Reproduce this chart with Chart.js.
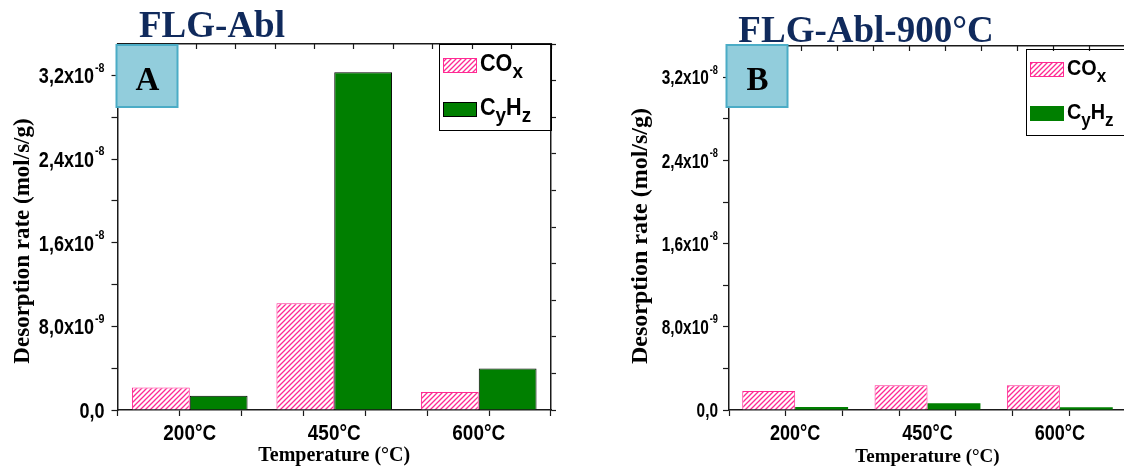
<!DOCTYPE html>
<html lang="en">
<head>
<meta charset="UTF-8">
<title>Desorption rate – FLG-Abl</title>
<script src="https://cdn.jsdelivr.net/npm/chart.js"></script>
<style>
  html, body { margin: 0; padding: 0; background: #fff; overflow: hidden; }
  body { width: 1124px; height: 470px; position: relative; }
  .panel { position: absolute; top: 0; height: 470px; }
  #panelA { left: 0; width: 600px; }
  #panelB { left: 600px; width: 560px; }
</style>
</head>
<body>
<div class="panel" id="panelA"><canvas id="chartA" width="600" height="470"></canvas></div>
<div class="panel" id="panelB"><canvas id="chartB" width="560" height="470"></canvas></div>
<script>
// data (mol/s/g)
const categories = ['200°C', '450°C', '600°C'];
const coxA = [2.16e-9, 1.02e-8, 1.71e-9];
const cyhzA = [1.36e-9, 3.23e-8, 3.97e-9];
const coxB = [1.83e-9, 2.37e-9, 2.37e-9];
const cyhzB = [0.29e-9, 0.64e-9, 0.26e-9];

// y tick labels: mantissa + superscript exponent
const yTickValues = [0, 8e-9, 1.6e-8, 2.4e-8, 3.2e-8];
const yTickLabels = ['0,0', '8,0x10', '1,6x10', '2,4x10', '3,2x10'];
const yTickExps = ['', '-9', '-8', '-8', '-8'];

const SANS = '"Liberation Sans", Arial, sans-serif';
const SERIF = '"Liberation Serif", "Times New Roman", serif';
const PINK = '#ff2a93';
const GREEN = '#007f00';
const AXIS = '#1a1a1a';

function makeHatch() {
  const n = 5;
  const c = document.createElement('canvas');
  c.width = n; c.height = n;
  const g = c.getContext('2d');
  g.fillStyle = '#fff';
  g.fillRect(0, 0, n, n);
  g.strokeStyle = PINK;
  g.lineWidth = 1.3;
  g.beginPath();
  g.moveTo(0, n); g.lineTo(n, 0);
  g.moveTo(-1, 1); g.lineTo(1, -1);
  g.moveTo(n - 1, n + 1); g.lineTo(n + 1, n - 1);
  g.stroke();
  return g.createPattern(c, 'repeat');
}
const hatch = makeHatch();

// narrow bold sans is not installed, so squeeze Liberation Sans horizontally
function narrowText(ctx, text, x, y, align, sx) {
  const w = ctx.measureText(text).width * sx;
  ctx.save();
  ctx.translate(x, y);
  ctx.scale(sx, 1);
  ctx.textAlign = align;
  ctx.fillText(text, 0, 0);
  ctx.restore();
  return w;
}

// draws the title, panel letter box, legend, tick labels and y title
function makeDecor(o) {
  return {
    id: 'decor',
    afterDraw(chart) {
      const { ctx, chartArea: a, scales } = chart;
      ctx.save();
      ctx.fillStyle = '#000';
      ctx.textBaseline = 'alphabetic';

      // y tick labels with superscripts
      const cap = o.tickFont * 0.716;
      yTickValues.forEach((v, i) => {
        const py = scales.y.getPixelForValue(v);
        const base = py + cap / 2;
        let rx = a.left - o.labelGap;
        if (yTickExps[i]) {
          ctx.font = 'bold ' + o.supFont + 'px ' + SANS;
          rx -= narrowText(ctx, yTickExps[i], rx, base - cap - 5 + o.supFont * 0.716, 'right', o.sx) + 1;
        }
        ctx.font = 'bold ' + o.tickFont + 'px ' + SANS;
        narrowText(ctx, yTickLabels[i], rx, base, 'right', o.sx);
      });

      // x category labels
      ctx.font = 'bold ' + o.xTickFont + 'px ' + SANS;
      categories.forEach((c, i) => {
        narrowText(ctx, c, scales.x.getPixelForValue(i), a.bottom + 30, 'center', o.xsx);
      });

      // rotated y title
      ctx.save();
      ctx.translate(o.yTitleX, o.yTitleY);
      ctx.rotate(-Math.PI / 2);
      ctx.textAlign = 'center';
      ctx.textBaseline = 'middle';
      ctx.font = 'bold ' + o.yTitleFont + 'px ' + SERIF;
      ctx.fillText('Desorption rate (mol/s/g)', 0, 0);
      ctx.restore();

      // chart title
      ctx.fillStyle = '#102a5c';
      ctx.font = 'bold 37px ' + SERIF;
      ctx.textAlign = 'center';
      ctx.fillText(o.title, o.titleX, o.titleY);

      // panel letter box
      const bx = a.left + o.boxDx, by = a.top + o.boxDy;
      ctx.fillStyle = '#92cddc';
      ctx.fillRect(bx, by, 61, 62);
      ctx.strokeStyle = '#4bacc6';
      ctx.lineWidth = 2;
      ctx.strokeRect(bx, by, 61, 62);
      ctx.fillStyle = '#000';
      ctx.font = 'bold 33px ' + SERIF;
      ctx.fillText(o.letter, bx + 31, by + 45);

      // legend
      const lx = a.right + o.legDx, ly = a.top + o.legDy;
      ctx.strokeStyle = '#000';
      ctx.lineWidth = 1;
      ctx.strokeRect(lx + 0.5, ly + 0.5, 112, 86);
      chart.data.datasets.forEach((ds, i) => {
        const sy = a.top + o.rows[i];
        ctx.fillStyle = ds.backgroundColor;
        ctx.fillRect(lx + 4, sy, 34, 15);
        if (ds.borderWidth) {
          ctx.strokeStyle = ds.borderColor;
          ctx.lineWidth = 1;
          ctx.strokeRect(lx + 4.5, sy + 0.5, 33, 14);
        }
        // uppercase -> normal, lowercase -> subscript
        let tx = lx + 41;
        const base = sy + 13;
        ctx.fillStyle = '#000';
        ctx.textAlign = 'left';
        for (const ch of ds.label) {
          const sub = ch === ch.toLowerCase();
          ctx.font = 'bold ' + (sub ? o.legFont - 3 : o.legFont) + 'px ' + SANS;
          tx += narrowText(ctx, ch, tx, sub ? base + 7 : base, 'left', 0.9);
        }
      });
      ctx.restore();
    }
  };
}

function makeChart(id, cox, cyhz, p) {
  const tickGrid = len => ({ drawOnChartArea: false, color: AXIS, tickColor: AXIS, tickLength: len, tickWidth: 1.2 });
  const border = { color: AXIS, width: 1.5 };
  return new Chart(document.getElementById(id), {
    type: 'bar',
    data: {
      labels: categories,
      datasets: [
        { label: 'COx', data: cox, backgroundColor: hatch, borderColor: PINK, borderWidth: 1, xAxisID: 'x', yAxisID: 'y' },
        { label: 'CyHz', data: cyhz, backgroundColor: GREEN, borderColor: '#000', borderWidth: p.greenBorder, xAxisID: 'x', yAxisID: 'y' }
      ]
    },
    options: {
      responsive: false,
      animation: false,
      layout: { padding: { left: 0, top: p.top, right: p.padRight, bottom: 0 } },
      datasets: { bar: { categoryPercentage: 0.8, barPercentage: 1.0 } },
      plugins: {
        legend: { display: false },
        tooltip: { enabled: false }
      },
      scales: {
        x: {
          type: 'category', position: 'bottom', weight: 1, offset: true,
          grid: { display: false, drawTicks: false },
          border: { display: false },
          ticks: { display: false },
          title: { display: true, text: 'Temperature (°C)', color: '#000', padding: { top: 0, bottom: 2 },
                   font: { family: SERIF, size: p.xTitleFont, weight: 'bold' } },
          afterFit: s => { s.height = 60; }
        },
        // tick marks only: half-category steps on the bottom, tenths on top and right
        xBot: {
          type: 'linear', position: 'bottom', weight: 0, min: 0, max: 6,
          ticks: { display: false, stepSize: 1 },
          grid: tickGrid(6), border,
          afterFit: s => { s.height = 0; }
        },
        xTop: {
          type: 'linear', position: 'top', min: 0, max: 10,
          ticks: { display: false, stepSize: 1 },
          grid: tickGrid(-5), border,
          afterFit: s => { s.height = 0; }
        },
        y: {
          type: 'linear', position: 'left', min: 0, max: 3.5e-8,
          ticks: { display: false, stepSize: 4e-9, includeBounds: false },
          grid: tickGrid(6), border,
          afterFit: s => { s.width = p.left; }
        },
        y2: {
          type: 'linear', position: 'right', min: 0, max: 3.5e-8,
          ticks: { display: false, stepSize: p.rightStep },
          grid: tickGrid(5), border,
          afterFit: s => { s.width = 5; }
        }
      }
    },
    plugins: [makeDecor(p.decor)]
  });
}

makeChart('chartA', coxA, cyhzA, {
  top: 44, left: 117.5, padRight: 44, greenBorder: 1, rightStep: 3.5e-9, xTitleFont: 20,
  decor: { title: 'FLG-Abl', titleX: 212, titleY: 37, letter: 'A', boxDx: -1, boxDy: 1,
           legDx: -112, legDy: 0, rows: [14, 58], legFont: 24,
           tickFont: 22, supFont: 13, labelGap: 13, sx: 0.82, xTickFont: 22, xsx: 0.86,
           yTitleX: 23, yTitleY: 241, yTitleFont: 23 }
});

makeChart('chartB', coxB, cyhzB, {
  top: 46, left: 129, padRight: 29, greenBorder: 0, rightStep: 7e-9, xTitleFont: 19,
  decor: { title: 'FLG-Abl-900°C', titleX: 266, titleY: 42, letter: 'B', boxDx: -2.5, boxDy: -1,
           legDx: -100, legDy: 3, rows: [16, 60], legFont: 22,
           tickFont: 20, supFont: 12, labelGap: 11, sx: 0.77, xTickFont: 22, xsx: 0.82,
           yTitleX: 41, yTitleY: 236, yTitleFont: 24 }
});
</script>
</body>
</html>
